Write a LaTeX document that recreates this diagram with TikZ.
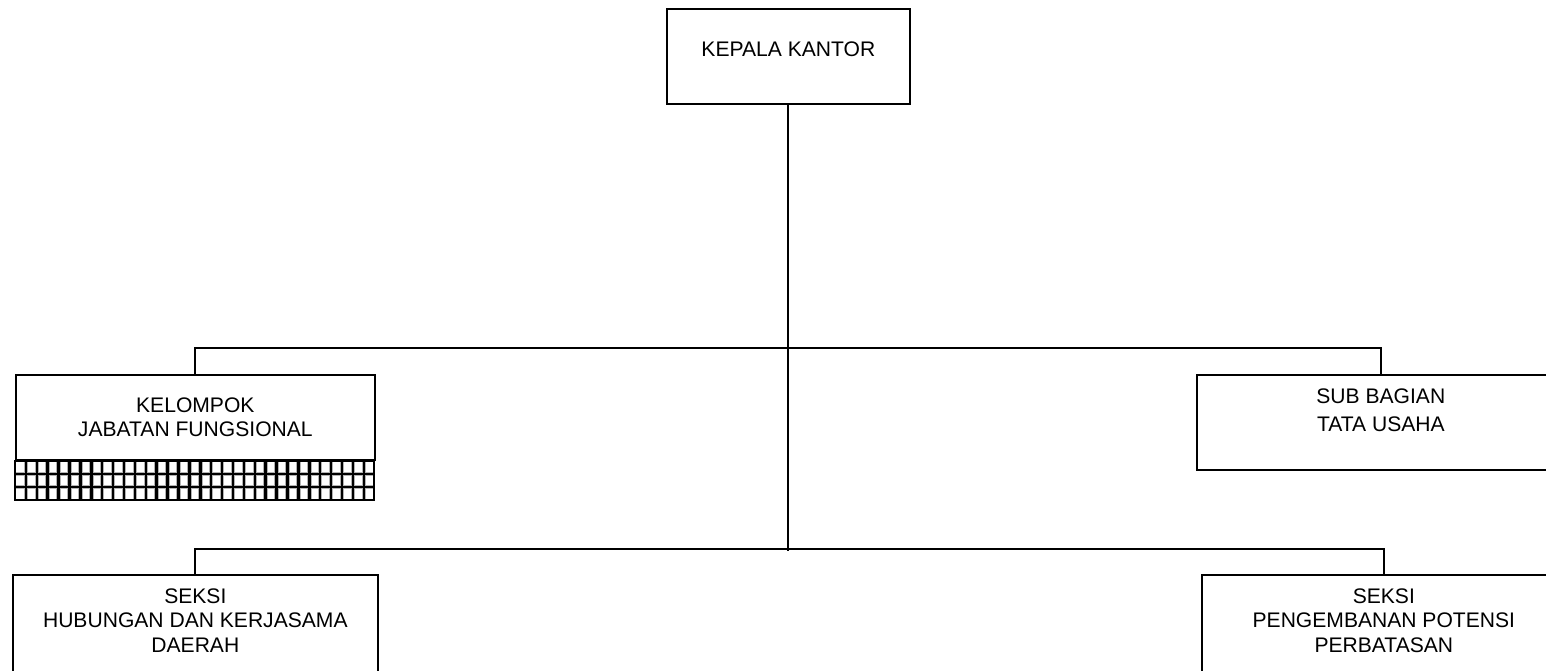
\documentclass[tikz,border=0pt]{standalone}
\usepackage{fontspec}
\setmainfont{Liberation Sans}
\usetikzlibrary{positioning}

\tikzset{
  unit/.style={draw, line width=1pt, inner sep=0pt, anchor=north west, align=center,
    font=\fontsize{12}{14}\selectfont},
  lift/.style={text depth=#1},
  gridline/.style={line width=1.4pt},
  halo/.style={line width=2.6pt, gray!60},
}

\begin{document}
\begin{tikzpicture}[x=0.02cm, y=-0.02cm, line width=1pt]
\useasboundingbox (0,0) rectangle (1546,671);

% head
\node[unit, lift=8pt, minimum width=4.86cm, minimum height=1.9cm] (kepala) at (666,8) {KEPALA KANTOR};

% second row
\node[unit, minimum width=7.18cm, minimum height=1.7cm] (kelompok) at (15,374) {KELOMPOK\\JABATAN FUNGSIONAL};
\node[unit, lift=14pt, minimum width=7.36cm, minimum height=1.9cm] (subbag) at (1196,374) {SUB BAGIAN\\[2pt]TATA USAHA};

% hatched band under kelompok
\fill[white] (15,461) rectangle (374,500);
\foreach \i in {1,...,32}
  \draw[halo] (15+\i*10.9,461) -- (15+\i*10.9,500);
\foreach \j in {1,2}
  \draw[halo] (15,461+\j*13) -- (374,461+\j*13);
\foreach \i in {1,...,32}
  \draw[gridline] (15+\i*10.9,461) -- (15+\i*10.9,500);
\foreach \j in {1,2}
  \draw[gridline] (15,461+\j*13) -- (374,461+\j*13);
\draw[gridline] (15,461) rectangle (374,500);

% third row
\node[unit, lift=14pt, minimum width=7.3cm, minimum height=2.32cm] (seksihk) at (12,574) {SEKSI\\HUBUNGAN DAN KERJASAMA\\DAERAH};
\node[unit, lift=14pt, minimum width=7.28cm, minimum height=2.32cm] (seksipp) at (1201,574) {SEKSI\\PENGEMBANAN POTENSI\\PERBATASAN};

% lines
\draw (kepala.south) -- ++(0,446) coordinate (bot);
\draw (kelompok.north) -- ++(0,-26) -| (subbag.north);
\draw (seksihk.north) -- ++(0,-25) -| (seksipp.north);

\end{tikzpicture}
\end{document}
